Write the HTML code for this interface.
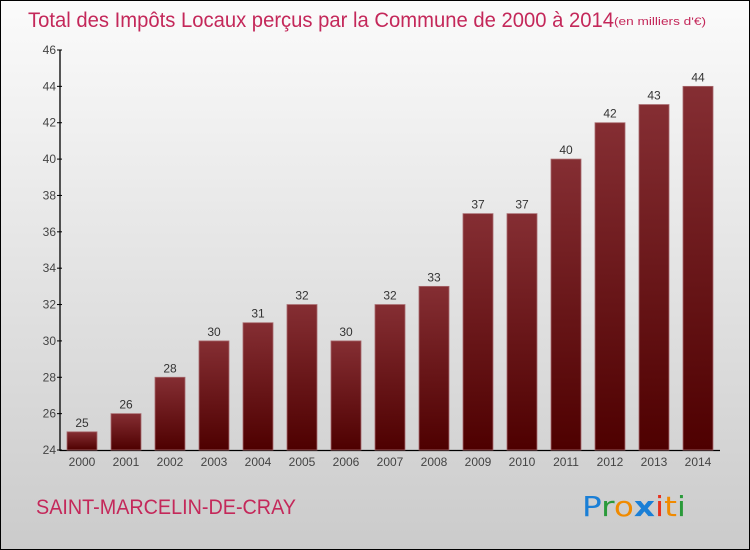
<!DOCTYPE html>
<html><head><meta charset="utf-8"><style>
body{margin:0}
svg{display:block;font-family:"Liberation Sans","DejaVu Sans",sans-serif}
</style></head><body>
<svg width="750" height="550" xmlns="http://www.w3.org/2000/svg">
<defs>
<linearGradient id="bg" x1="0" y1="0" x2="0" y2="1"><stop offset="0" stop-color="#fbfbfb"/><stop offset="1" stop-color="#cbcbcb"/></linearGradient>
<linearGradient id="bar" x1="0" y1="0" x2="0" y2="1"><stop offset="0" stop-color="#852e33"/><stop offset="1" stop-color="#4e0000"/></linearGradient>
</defs>
<rect x="0.5" y="0.5" width="749" height="549" fill="url(#bg)" stroke="#000"/>
<text x="28" y="27" font-size="21" fill="#c4285a" textLength="586" lengthAdjust="spacingAndGlyphs">Total des Impôts Locaux perçus par la Commune de 2000 à 2014</text>
<text x="614" y="25" font-size="11" fill="#c4285a" textLength="92" lengthAdjust="spacingAndGlyphs">(en milliers d'€)</text>
<g id="axes"></g>
<g id="bars"></g>
<text x="36" y="514" font-size="21" fill="#c4285a" textLength="260" lengthAdjust="spacingAndGlyphs">SAINT-MARCELIN-DE-CRAY</text>
<g font-size="28" font-family="'DejaVu Sans',sans-serif">
<text x="582" y="516" textLength="104" lengthAdjust="spacingAndGlyphs"><tspan fill="#1a7fd6">P</tspan><tspan fill="#2a9a3a">r</tspan><tspan fill="#f08a00">o</tspan><tspan fill="#1a7fd6" font-weight="bold">x</tspan><tspan fill="#e8321e">i</tspan><tspan fill="#f08a00">t</tspan><tspan fill="#2a9a3a">i</tspan></text>
</g>
</svg>
<script>
const years=['2000','2001','2002','2003','2004','2005','2006','2007','2008','2009','2010','2011','2012','2013','2014'];
const values=[25,26,28,30,31,32,30,32,33,37,37,40,42,43,44];
const yTicks=[24,26,28,30,32,34,36,38,40,42,44,46];
const NS='http://www.w3.org/2000/svg';
const y0=450,y1=50,vmin=24,vmax=46;
const yS=v=>y0-(v-vmin)/(vmax-vmin)*(y0-y1);
const xS=i=>82+i*44;
function mk(t,a,p,txt){const e=document.createElementNS(NS,t);for(const k in a)e.setAttribute(k,a[k]);if(txt!=null)e.textContent=txt;p.appendChild(e);return e;}
const ax=document.getElementById('axes'),bg=document.getElementById('bars');
const yl=mk('line',{x1:60,y1:y1,x2:60,y2:y0+1,stroke:'#000','stroke-width':1.3},ax);


const xl=mk('line',{x1:60,y1:y0+0.5,x2:720,y2:y0+0.5,stroke:'#000','stroke-width':1.3},ax);


yTicks.forEach(v=>{
 mk('line',{x1:57,x2:62,y1:yS(v),y2:yS(v),stroke:'#000'},ax);
 const t=mk('text',{x:56,y:yS(v)+4,'font-size':12,fill:'#444','text-anchor':'end'},ax,v);
 
 
});
years.forEach((yr,i)=>{
 const v=values[i],x=xS(i);
 const r=mk('rect',{x:x-15,y:yS(v),width:30,height:y0-yS(v),fill:'url(#bar)',stroke:'#a86a6e','stroke-width':0.8},bg);
 
 
 const l=mk('text',{x:x,y:yS(v)-5,'font-size':12,fill:'#333','text-anchor':'middle'},bg,v);
 
 
 const xt=mk('text',{x:x,y:466,'font-size':12,fill:'#444','text-anchor':'middle'},bg,yr);
 
 
});
</script>
</body></html>
